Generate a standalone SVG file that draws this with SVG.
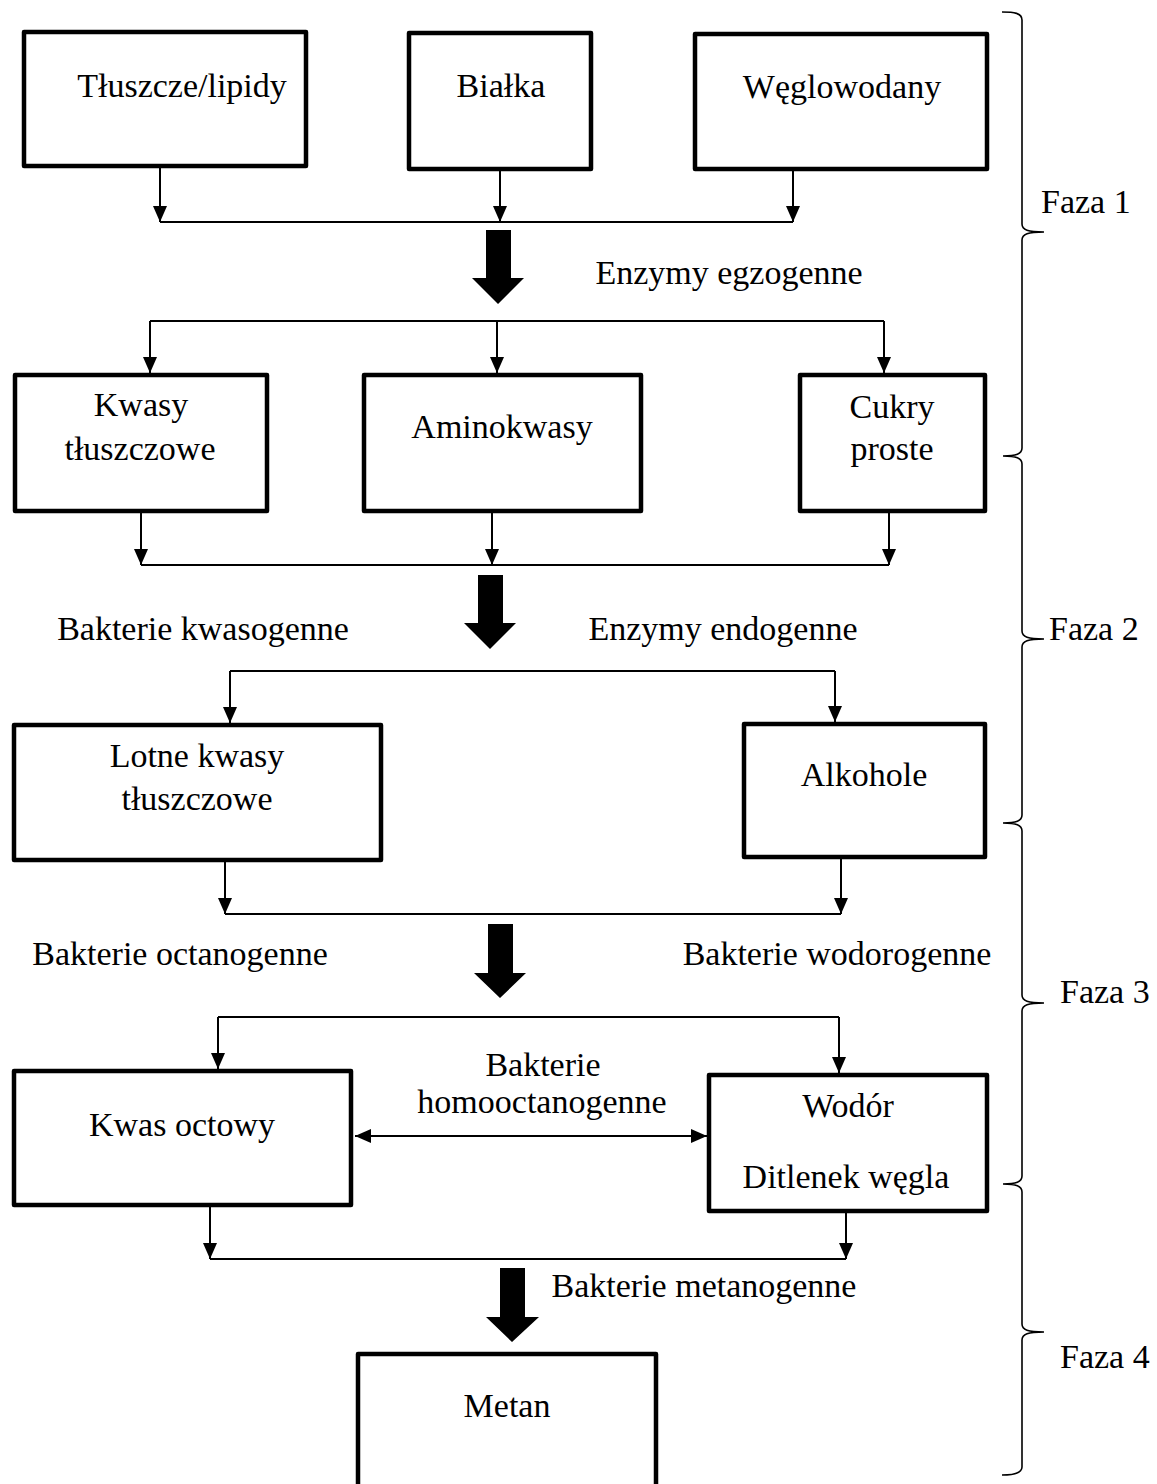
<svg xmlns="http://www.w3.org/2000/svg" width="1157" height="1484" viewBox="0 0 1157 1484">
  <style>
    .box { fill: #fff; stroke: #000; stroke-width: 4.5; stroke-linejoin: round; }
    .t { font-family: "Liberation Serif", "Times New Roman", serif; font-size: 34px; fill: #000; text-anchor: middle; }
    .l { text-anchor: start; }
    .wire { fill: none; stroke: #000; stroke-width: 2; }
    .brace { fill: none; stroke: #000; stroke-width: 1.6; }
    .big { fill: #000; }
  </style>
  <defs>
    <marker id="head" markerUnits="userSpaceOnUse" viewBox="0 0 16 14" refX="16" refY="7" markerWidth="16" markerHeight="14" orient="auto-start-reverse">
      <path d="M0,0 L16,7 L0,14 Z" fill="#000"/>
    </marker>
  </defs>

  <rect width="1157" height="1484" fill="#fff"/>

  <!-- flow connectors -->
  <g id="connectors">
    <!-- stage 1 collectors -->
    <path class="wire" d="M160,168 V222" marker-end="url(#head)"/>
    <path class="wire" d="M500,171 V222" marker-end="url(#head)"/>
    <path class="wire" d="M793,171 V222" marker-end="url(#head)"/>
    <path class="wire" d="M160,222 H793"/>
    <path class="big" d="M486,230 H511 V278 H524 L498,304 L472,278 H486 Z"/>
    <!-- stage 2 distribution -->
    <path class="wire" d="M150,321 H884"/>
    <path class="wire" d="M150,321 V373" marker-end="url(#head)"/>
    <path class="wire" d="M497,321 V373" marker-end="url(#head)"/>
    <path class="wire" d="M884,321 V373" marker-end="url(#head)"/>
    <!-- stage 2 collectors -->
    <path class="wire" d="M141,513 V565" marker-end="url(#head)"/>
    <path class="wire" d="M492,513 V565" marker-end="url(#head)"/>
    <path class="wire" d="M889,513 V565" marker-end="url(#head)"/>
    <path class="wire" d="M141,565 H889"/>
    <path class="big" d="M478,575 H503 V623 H516 L490,649 L464,623 H478 Z"/>
    <!-- stage 3 distribution -->
    <path class="wire" d="M230,671 H835"/>
    <path class="wire" d="M230,671 V723" marker-end="url(#head)"/>
    <path class="wire" d="M835,671 V722" marker-end="url(#head)"/>
    <!-- stage 3 collectors -->
    <path class="wire" d="M225,862 V914" marker-end="url(#head)"/>
    <path class="wire" d="M841,859 V914" marker-end="url(#head)"/>
    <path class="wire" d="M225,914 H841"/>
    <path class="big" d="M488,924 H513 V973 H526 L500,998 L474,973 H488 Z"/>
    <!-- stage 4 distribution -->
    <path class="wire" d="M218,1017 H839"/>
    <path class="wire" d="M218,1017 V1069" marker-end="url(#head)"/>
    <path class="wire" d="M839,1017 V1073" marker-end="url(#head)"/>
    <!-- homoacetogenic exchange -->
    <path class="wire" d="M355,1136 H707" marker-start="url(#head)" marker-end="url(#head)"/>
    <!-- stage 4 collectors -->
    <path class="wire" d="M210,1207 V1259" marker-end="url(#head)"/>
    <path class="wire" d="M846,1213 V1259" marker-end="url(#head)"/>
    <path class="wire" d="M210,1259 H846"/>
    <path class="big" d="M500,1268 H525 V1317 H539 L512,1342 L486,1317 H500 Z"/>
  </g>

  <!-- substrates -->
  <g id="tluszcze">
    <rect class="box" x="24" y="32" width="282" height="134"/>
    <text class="t" x="182" y="97">Tłuszcze/lipidy</text>
  </g>
  <g id="bialka">
    <rect class="box" x="409" y="33" width="182" height="136"/>
    <text class="t" x="501" y="97">Białka</text>
  </g>
  <g id="weglowodany">
    <rect class="box" x="695" y="34" width="292" height="135"/>
    <text class="t" x="842" y="98">Węglowodany</text>
  </g>

  <!-- hydrolysis products -->
  <g id="kwasy-tluszczowe">
    <rect class="box" x="15" y="375" width="252" height="136"/>
    <text class="t" x="141" y="416">Kwasy</text>
    <text class="t" x="140" y="460">tłuszczowe</text>
  </g>
  <g id="aminokwasy">
    <rect class="box" x="364" y="375" width="277" height="136"/>
    <text class="t" x="502" y="438">Aminokwasy</text>
  </g>
  <g id="cukry">
    <rect class="box" x="800" y="375" width="185" height="136"/>
    <text class="t" x="892" y="418">Cukry</text>
    <text class="t" x="892" y="460">proste</text>
  </g>

  <!-- acidogenesis products -->
  <g id="lotne-kwasy">
    <rect class="box" x="14" y="725" width="367" height="135"/>
    <text class="t" x="197" y="767">Lotne kwasy</text>
    <text class="t" x="197" y="810">tłuszczowe</text>
  </g>
  <g id="alkohole">
    <rect class="box" x="744" y="724" width="241" height="133"/>
    <text class="t" x="864" y="786">Alkohole</text>
  </g>

  <!-- acetogenesis products -->
  <g id="kwas-octowy">
    <rect class="box" x="14" y="1071" width="337" height="134"/>
    <text class="t" x="182" y="1136">Kwas octowy</text>
  </g>
  <g id="wodor">
    <rect class="box" x="709" y="1075" width="278" height="136"/>
    <text class="t" x="848" y="1117">Wodór</text>
    <text class="t" x="846" y="1188">Ditlenek węgla</text>
  </g>

  <!-- methanogenesis product -->
  <g id="metan">
    <rect class="box" x="358" y="1354" width="298" height="200"/>
    <text class="t" x="507" y="1417">Metan</text>
  </g>

  <!-- process labels -->
  <g id="labels">
    <text class="t" x="729" y="284">Enzymy egzogenne</text>
    <text class="t" x="203" y="640">Bakterie kwasogenne</text>
    <text class="t" x="723" y="640">Enzymy endogenne</text>
    <text class="t" x="180" y="965">Bakterie octanogenne</text>
    <text class="t" x="837" y="965">Bakterie wodorogenne</text>
    <text class="t" x="543" y="1076">Bakterie</text>
    <text class="t" x="542" y="1113">homooctanogenne</text>
    <text class="t" x="704" y="1297">Bakterie metanogenne</text>
  </g>

  <!-- phase brackets -->
  <g id="fazy">
    <path class="brace" d="M1002,12 C1014,12 1022,13 1022,20 L1022,224 C1022,230 1028,232 1044,232 C1028,232 1022,234 1022,240 L1022,448 C1022,454 1016,456 1003,456 C1016,456 1022,458 1022,464 L1022,631 C1022,637 1028,639 1044,639 C1028,639 1022,641 1022,647 L1022,815 C1022,821 1016,823 1003,823 C1016,823 1022,825 1022,831 L1022,995 C1022,1001 1028,1003 1044,1003 C1028,1003 1022,1005 1022,1011 L1022,1176 C1022,1182 1016,1184 1003,1184 C1016,1184 1022,1186 1022,1192 L1022,1324 C1022,1330 1028,1332 1044,1332 C1028,1332 1022,1334 1022,1340 L1022,1467 C1022,1473 1014,1475 1002,1475"/>
    <text class="t l" x="1041" y="213">Faza 1</text>
    <text class="t l" x="1049" y="640">Faza 2</text>
    <text class="t l" x="1060" y="1003">Faza 3</text>
    <text class="t l" x="1060" y="1368">Faza 4</text>
  </g>
</svg>
